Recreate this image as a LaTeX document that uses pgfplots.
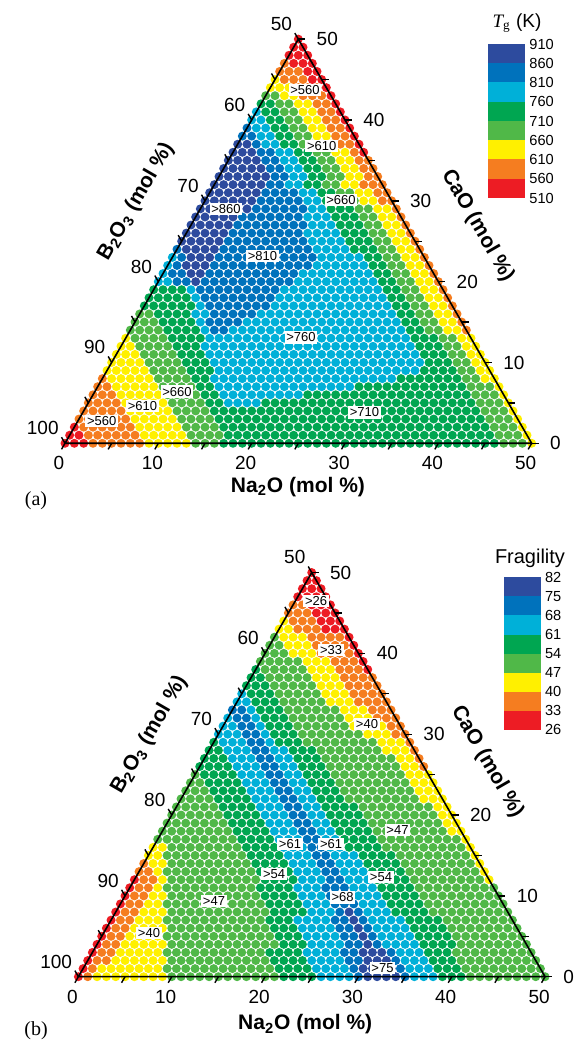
\documentclass[border=0pt]{standalone}
\usepackage{fontspec}
\setmainfont{Liberation Sans}
\newfontfamily\seriffont{Liberation Serif}
\usepackage{pgfplots}
\pgfplotsset{compat=1.18}
\definecolor{cR}{RGB}{237,28,36}
\definecolor{cO}{RGB}{245,125,32}
\definecolor{cY}{RGB}{255,240,0}
\definecolor{cL}{RGB}{80,184,72}
\definecolor{cG}{RGB}{0,166,81}
\definecolor{cC}{RGB}{0,176,216}
\definecolor{cB}{RGB}{0,114,188}
\definecolor{cD}{RGB}{45,75,158}
\pgfplotsset{
 tern/.style={hide axis, clip=false, x=4.6667pt, y=4.6667pt, xmin=0, xmax=50, ymin=0, ymax=43.30127, anchor=south west},
 dots/.style={line width=4.5pt, line cap=round, dash pattern=on 0pt off 4.6667pt, quiver={u=\thisrow{b}-\thisrow{a}+0.3, v=0}},
}
\tikzset{lab/.style={fill=white, inner sep=0.8pt, font=\fontsize{6.5}{7}\selectfont}}
\newcommand{\dotrows}[2]{\addplot[dots, draw=#1] table[row sep=\\, x expr=\thisrow{a}+0.5*\thisrow{c}, y expr=0.8660254*\thisrow{c}] {#2};}
\newcommand{\ternframe}{%
 \draw[line width=0.8pt] (axis cs:0,0) -- (axis cs:50,0) -- (axis cs:25,43.30127) -- cycle;
 \pgfplotsinvokeforeach{0,5,...,50}{%
  \draw[line width=0.7pt] (axis cs:##1,0) -- ++(-1.75pt,-3.03pt);
  \draw[line width=0.7pt] (axis cs:{50-##1/2},{##1*0.8660254}) -- ++(3.5pt,0pt);
  \draw[line width=0.7pt] (axis cs:{##1/2},{##1*0.8660254}) -- ++(-1.75pt,3.03pt);
 }
 \pgfplotsinvokeforeach{0,10,...,50}{%
  \path (axis cs:##1,0) node[anchor=north, inner sep=0pt, xshift=-3pt, yshift=-6.5pt, font=\fontsize{9.5}{10}\selectfont] {##1};
  \path (axis cs:{50-##1/2},{##1*0.8660254}) node[anchor=west, inner sep=0pt, xshift=9pt, font=\fontsize{9.5}{10}\selectfont] {##1};
  \path (axis cs:{##1/2},{##1*0.8660254}) node[anchor=south east, inner sep=0pt, xshift=-3pt, yshift=4pt, font=\fontsize{9.5}{10}\selectfont] {\pgfmathtruncatemacro\v{100-##1}\v};
 }
}
\begin{document}
\begin{tikzpicture}
\path[use as bounding box] (0,0) rectangle (287pt,525pt);
% ---------------- (a) Tg ----------------
\begin{axis}[tern, at={(32.5pt,303.35pt)}]
\dotrows{cR}{c a b\\ 50 0 0\\ 49 0 1\\ 48 0 2\\ 47 1 3\\ 46 3 4\\ 45 4 5\\ 44 6 6\\ 43 7 7\\ 42 8 8\\ 41 9 9\\ 40 10 10\\ 39 11 11\\ 38 12 12\\ 37 13 13\\ 36 14 14\\ 2 0 0\\ 1 0 1\\ 0 0 2\\}
\dotrows{cO}{c a b\\ 47 0 0\\ 46 0 2\\ 45 1 3\\ 44 3 5\\ 43 4 6\\ 42 6 7\\ 41 7 8\\ 40 8 9\\ 39 9 10\\ 38 10 11\\ 37 11 12\\ 36 13 13\\ 35 14 15\\ 34 15 16\\ 33 16 17\\ 32 16 18\\ 31 18 19\\ 30 19 20\\ 29 21 21\\ 28 22 22\\ 27 23 23\\ 26 24 24\\ 25 25 25\\ 24 26 26\\ 23 27 27\\ 22 28 28\\ 21 29 29\\ 20 30 30\\ 19 31 31\\ 18 32 32\\ 17 33 33\\ 16 34 34\\ 15 35 35\\ 14 36 36\\ 8 0 0\\ 7 0 1\\ 6 0 2\\ 5 0 3\\ 4 0 4\\ 3 0 5\\ 2 1 6\\ 1 2 7\\ 0 3 8\\}
\dotrows{cY}{c a b\\ 45 0 0\\ 44 0 2\\ 43 2 3\\ 42 4 5\\ 41 5 6\\ 40 6 7\\ 39 7 8\\ 38 8 9\\ 37 9 10\\ 36 11 12\\ 35 12 13\\ 34 13 14\\ 33 14 15\\ 32 14 15\\ 31 16 17\\ 30 17 18\\ 29 19 20\\ 28 20 21\\ 27 21 22\\ 26 22 23\\ 25 23 24\\ 24 24 25\\ 23 25 26\\ 22 26 27\\ 21 27 28\\ 20 28 29\\ 19 29 30\\ 18 30 31\\ 17 31 32\\ 16 32 33\\ 15 33 34\\ 14 34 35\\ 13 0 0\\ 13 36 37\\ 12 0 1\\ 12 37 38\\ 11 0 2\\ 11 38 39\\ 10 0 3\\ 10 39 40\\ 9 0 4\\ 9 40 41\\ 8 1 5\\ 8 41 42\\ 7 2 6\\ 7 43 43\\ 6 3 7\\ 6 44 44\\ 5 4 8\\ 5 45 45\\ 4 5 9\\ 4 46 46\\ 3 6 10\\ 3 47 47\\ 2 7 11\\ 2 48 48\\ 1 8 12\\ 1 49 49\\ 0 9 13\\ 0 50 50\\}
\dotrows{cL}{c a b\\ 43 0 1\\ 42 2 3\\ 41 3 4\\ 40 4 5\\ 39 5 6\\ 38 6 7\\ 37 7 8\\ 36 9 10\\ 35 10 11\\ 34 11 12\\ 33 12 13\\ 32 12 13\\ 31 14 15\\ 30 14 16\\ 29 17 18\\ 28 18 19\\ 27 19 20\\ 26 20 21\\ 25 21 22\\ 24 22 23\\ 23 23 24\\ 22 24 25\\ 21 25 26\\ 20 26 27\\ 19 27 28\\ 18 28 29\\ 17 29 30\\ 16 0 1\\ 16 30 31\\ 15 0 2\\ 15 31 32\\ 14 0 3\\ 14 32 33\\ 13 1 4\\ 13 34 35\\ 12 2 5\\ 12 35 36\\ 11 3 6\\ 11 36 37\\ 10 4 7\\ 10 37 38\\ 9 5 8\\ 9 38 39\\ 8 6 9\\ 8 39 40\\ 7 7 10\\ 7 40 42\\ 6 8 11\\ 6 41 43\\ 5 9 12\\ 5 42 44\\ 4 10 13\\ 4 43 45\\ 3 11 14\\ 3 44 46\\ 2 12 15\\ 2 45 47\\ 1 13 16\\ 1 46 48\\ 0 14 16\\ 0 47 49\\}
\dotrows{cG}{c a b\\ 42 0 1\\ 41 1 2\\ 40 2 3\\ 39 3 4\\ 38 4 5\\ 37 5 6\\ 36 7 8\\ 35 8 9\\ 34 9 10\\ 33 10 11\\ 32 10 11\\ 31 12 13\\ 30 13 13\\ 29 14 16\\ 28 15 17\\ 27 16 18\\ 26 17 19\\ 25 18 20\\ 24 19 21\\ 23 21 22\\ 22 22 23\\ 21 23 24\\ 20 24 25\\ 19 0 3\\ 19 25 26\\ 18 0 4\\ 18 26 27\\ 17 0 5\\ 17 27 28\\ 16 2 5\\ 16 28 29\\ 15 3 6\\ 15 29 30\\ 14 4 7\\ 14 30 31\\ 13 5 8\\ 13 31 33\\ 12 6 8\\ 12 32 34\\ 11 7 9\\ 11 33 35\\ 10 8 10\\ 10 34 36\\ 9 9 11\\ 9 34 37\\ 8 10 11\\ 8 32 38\\ 7 11 12\\ 7 28 39\\ 6 12 13\\ 6 23 40\\ 5 13 14\\ 5 19 41\\ 4 14 42\\ 3 15 43\\ 2 16 44\\ 1 17 45\\ 0 17 46\\}
\dotrows{cC}{c a b\\ 41 0 0\\ 40 0 1\\ 39 1 2\\ 38 2 3\\ 37 3 4\\ 36 5 6\\ 35 6 7\\ 34 7 8\\ 33 8 9\\ 32 8 9\\ 31 10 11\\ 30 11 12\\ 29 12 13\\ 28 12 14\\ 27 13 15\\ 26 13 16\\ 25 14 17\\ 24 15 18\\ 23 0 0\\ 23 16 20\\ 22 0 0\\ 22 16 21\\ 21 0 0\\ 21 15 22\\ 20 0 1\\ 20 15 23\\ 19 4 4\\ 19 14 24\\ 18 5 5\\ 18 14 25\\ 17 6 6\\ 17 14 26\\ 16 6 7\\ 16 13 27\\ 15 7 7\\ 15 12 28\\ 14 8 8\\ 14 11 29\\ 13 9 30\\ 12 9 31\\ 11 10 32\\ 10 11 33\\ 9 12 33\\ 8 12 31\\ 7 13 27\\ 6 14 22\\ 5 15 18\\}
\dotrows{cB}{c a b\\ 39 0 0\\ 38 0 1\\ 37 2 2\\ 36 3 4\\ 35 4 5\\ 34 5 6\\ 33 6 7\\ 32 6 7\\ 31 6 9\\ 30 6 10\\ 29 6 11\\ 28 5 11\\ 27 5 12\\ 26 5 12\\ 25 5 13\\ 24 0 0\\ 24 5 14\\ 23 1 1\\ 23 5 15\\ 22 1 1\\ 22 5 15\\ 21 1 2\\ 21 5 14\\ 20 2 3\\ 20 5 14\\ 19 5 13\\ 18 6 13\\ 17 7 13\\ 16 8 12\\ 15 8 11\\ 14 9 10\\}
\dotrows{cD}{c a b\\ 37 0 1\\ 36 0 2\\ 35 0 3\\ 34 0 4\\ 33 0 5\\ 32 0 5\\ 31 0 5\\ 30 0 5\\ 29 0 5\\ 28 0 4\\ 27 0 4\\ 26 0 4\\ 25 0 4\\ 24 1 4\\ 23 2 4\\ 22 2 4\\ 21 3 4\\ 20 4 4\\}
\ternframe
\node[lab] at (axis cs:25.71,37.85) {>560};
\node[lab] at (axis cs:27.50,31.85) {>610};
\node[lab] at (axis cs:29.57,26.07) {>660};
\node[lab] at (axis cs:17.25,25.11) {>860};
\node[lab] at (axis cs:21.16,20.07) {>810};
\node[lab] at (axis cs:25.29,11.34) {>760};
\node[lab] at (axis cs:32.09,3.30) {>710};
\node[lab] at (axis cs:12.00,5.53) {>660};
\node[lab] at (axis cs:8.30,4.00) {>610};
\node[lab] at (axis cs:3.93,2.39) {>560};
\node[rotate=60, font=\bfseries\fontsize{10.5}{12}\selectfont] at (axis cs:7.6,25.9) {B\textsubscript{2}O\textsubscript{3} (mol \%)};
\node[rotate=-60, font=\bfseries\fontsize{10.5}{12}\selectfont] at (axis cs:44.2,23.3) {CaO (mol \%)};
\node[font=\bfseries\fontsize{10.5}{12}\selectfont] at (axis cs:24.96,-4.64) {Na\textsubscript{2}O (mol \%)};
\end{axis}
% ---------------- (b) Fragility ----------------
\begin{axis}[tern, at={(39.2pt,36.65pt)}]
\dotrows{cR}{c a b\\ 50 0 0\\ 49 0 1\\ 48 0 2\\ 47 0 3\\ 46 2 4\\ 45 3 5\\ 44 4 6\\ 43 5 7\\ 42 8 8\\ 41 9 9\\ 40 10 10\\ 39 11 11\\ 38 12 12\\ 12 0 0\\ 11 0 0\\ 10 0 0\\ 9 0 0\\ 8 0 0\\ 7 0 0\\ 6 0 0\\ 5 0 0\\ 4 0 0\\ 3 0 0\\ 2 0 0\\ 1 0 0\\ 0 0 0\\}
\dotrows{cO}{c a b\\ 46 0 1\\ 45 0 2\\ 44 1 3\\ 43 2 4\\ 42 4 7\\ 41 5 8\\ 40 6 9\\ 39 8 10\\ 38 9 11\\ 37 10 13\\ 36 11 14\\ 35 12 15\\ 34 13 16\\ 33 15 17\\ 32 16 18\\ 31 18 19\\ 30 19 20\\ 29 21 21\\ 28 22 22\\ 27 23 23\\ 26 24 24\\ 14 0 0\\ 13 0 1\\ 12 1 2\\ 11 1 2\\ 10 1 2\\ 9 1 2\\ 8 1 2\\ 7 1 2\\ 6 1 2\\ 5 1 2\\ 4 1 2\\ 3 1 2\\ 2 1 2\\ 1 1 1\\ 0 1 1\\}
\dotrows{cY}{c a b\\ 44 0 0\\ 43 0 1\\ 42 1 3\\ 41 2 4\\ 40 3 5\\ 39 5 7\\ 38 6 8\\ 37 7 9\\ 36 8 10\\ 35 9 11\\ 34 10 12\\ 33 12 14\\ 32 13 15\\ 31 14 17\\ 30 16 18\\ 29 18 20\\ 28 19 21\\ 27 21 22\\ 26 22 23\\ 25 23 25\\ 24 24 26\\ 23 25 27\\ 22 26 28\\ 21 28 29\\ 20 29 30\\ 19 30 31\\ 18 31 32\\ 17 33 33\\ 16 0 1\\ 16 34 34\\ 15 0 1\\ 15 35 35\\ 14 1 2\\ 14 36 36\\ 13 2 2\\ 13 37 37\\ 12 3 3\\ 12 38 38\\ 11 3 3\\ 10 3 4\\ 9 3 4\\ 8 3 5\\ 7 3 5\\ 6 3 6\\ 5 3 6\\ 4 3 7\\ 3 3 7\\ 2 3 8\\ 1 2 8\\ 0 2 9\\}
\dotrows{cL}{c a b\\ 42 0 0\\ 41 0 1\\ 40 0 2\\ 39 0 4\\ 38 1 5\\ 37 2 6\\ 36 3 7\\ 35 4 8\\ 34 5 9\\ 33 6 11\\ 32 7 12\\ 31 8 13\\ 30 9 15\\ 29 10 17\\ 28 12 18\\ 27 13 20\\ 26 14 21\\ 25 0 0\\ 25 15 22\\ 24 0 1\\ 24 16 23\\ 23 0 2\\ 23 17 24\\ 22 0 3\\ 22 18 25\\ 21 0 4\\ 21 20 27\\ 20 0 5\\ 20 21 28\\ 19 0 6\\ 19 22 29\\ 18 0 7\\ 18 23 30\\ 17 0 8\\ 17 24 32\\ 16 2 9\\ 16 25 33\\ 15 2 10\\ 15 27 34\\ 14 3 11\\ 14 28 35\\ 13 3 12\\ 13 29 36\\ 12 4 13\\ 12 30 37\\ 11 4 13\\ 11 31 39\\ 10 5 14\\ 10 32 40\\ 9 5 15\\ 9 33 41\\ 8 6 16\\ 8 34 42\\ 7 6 16\\ 7 36 43\\ 6 7 17\\ 6 37 44\\ 5 7 18\\ 5 38 45\\ 4 8 19\\ 4 39 46\\ 3 8 18\\ 3 39 47\\ 2 9 19\\ 2 40 48\\ 1 9 20\\ 1 41 49\\ 0 10 21\\ 0 42 50\\}
\dotrows{cG}{c a b\\ 38 0 0\\ 37 0 1\\ 36 0 2\\ 35 1 3\\ 34 2 4\\ 33 3 5\\ 32 4 6\\ 31 5 7\\ 30 6 8\\ 29 0 0\\ 29 7 9\\ 28 0 1\\ 28 9 11\\ 27 0 2\\ 27 10 12\\ 26 0 3\\ 26 11 13\\ 25 1 4\\ 25 12 14\\ 24 2 5\\ 24 13 15\\ 23 3 6\\ 23 14 16\\ 22 4 7\\ 22 15 17\\ 21 5 8\\ 21 16 19\\ 20 6 9\\ 20 17 20\\ 19 7 10\\ 19 18 21\\ 18 8 11\\ 18 19 22\\ 17 9 12\\ 17 20 23\\ 16 10 13\\ 16 21 24\\ 15 11 14\\ 15 23 26\\ 14 12 15\\ 14 24 27\\ 13 13 16\\ 13 25 28\\ 12 14 17\\ 12 26 29\\ 11 14 17\\ 11 27 30\\ 10 15 18\\ 10 28 31\\ 9 16 19\\ 9 29 32\\ 8 17 20\\ 8 30 33\\ 7 17 19\\ 7 32 35\\ 6 18 20\\ 6 33 36\\ 5 19 21\\ 5 34 37\\ 4 20 22\\ 4 35 38\\ 3 19 22\\ 3 36 38\\ 2 20 23\\ 2 37 39\\ 1 21 24\\ 1 38 40\\ 0 22 25\\ 0 39 41\\}
\dotrows{cC}{c a b\\ 35 0 0\\ 34 0 1\\ 33 2 2\\ 32 0 0\\ 32 3 3\\ 31 0 1\\ 31 4 4\\ 30 0 2\\ 30 5 5\\ 29 1 3\\ 29 6 6\\ 28 2 4\\ 28 7 8\\ 27 3 5\\ 27 8 9\\ 26 4 6\\ 26 9 10\\ 25 5 7\\ 25 10 11\\ 24 6 8\\ 24 11 12\\ 23 7 9\\ 23 12 13\\ 22 8 10\\ 22 13 14\\ 21 9 11\\ 21 14 15\\ 20 10 12\\ 20 15 16\\ 19 11 13\\ 19 16 17\\ 18 12 14\\ 18 17 18\\ 17 13 15\\ 17 18 19\\ 16 14 16\\ 16 19 20\\ 15 15 17\\ 15 20 22\\ 14 16 18\\ 14 21 23\\ 13 17 19\\ 13 22 24\\ 12 18 20\\ 12 23 25\\ 11 18 20\\ 11 24 26\\ 10 19 21\\ 10 25 27\\ 9 20 22\\ 9 26 28\\ 8 21 23\\ 8 27 29\\ 7 20 23\\ 7 28 31\\ 6 21 24\\ 6 29 32\\ 5 22 25\\ 5 30 33\\ 4 23 26\\ 4 31 34\\ 3 23 26\\ 3 33 35\\ 2 24 27\\ 2 34 36\\ 1 25 28\\ 1 35 37\\ 0 26 29\\ 0 36 38\\}
\dotrows{cB}{c a b\\ 33 0 1\\ 32 1 2\\ 31 2 3\\ 30 3 4\\ 29 4 5\\ 28 5 6\\ 27 6 7\\ 26 7 8\\ 25 8 9\\ 24 9 10\\ 23 10 11\\ 22 11 12\\ 21 12 13\\ 20 13 14\\ 19 14 15\\ 18 15 16\\ 17 16 17\\ 16 17 18\\ 15 18 19\\ 14 19 20\\ 13 20 21\\ 12 21 22\\ 11 21 23\\ 10 22 24\\ 9 23 25\\ 8 24 24\\ 8 26 26\\ 7 24 25\\ 7 27 27\\ 6 25 26\\ 6 28 28\\ 5 26 27\\ 5 29 29\\ 4 27 28\\ 4 30 30\\ 3 27 28\\ 3 32 32\\ 2 28 29\\ 2 33 33\\ 1 29 29\\ 1 34 34\\ 0 30 30\\ 0 35 35\\}
\dotrows{cD}{c a b\\ 8 25 25\\ 7 26 26\\ 6 27 27\\ 5 28 28\\ 4 29 29\\ 3 29 31\\ 2 30 32\\ 1 30 33\\ 0 31 34\\}
\ternframe
\node[lab] at (axis cs:25.46,40.25) {>26};
\node[lab] at (axis cs:27.07,35.00) {>33};
\node[lab] at (axis cs:30.92,27.08) {>40};
\node[lab] at (axis cs:34.19,15.72) {>47};
\node[lab] at (axis cs:22.67,14.23) {>61};
\node[lab] at (axis cs:27.07,14.23) {>61};
\node[lab] at (axis cs:20.96,11.00) {>54};
\node[lab] at (axis cs:32.42,10.68) {>54};
\node[lab] at (axis cs:14.53,8.11) {>47};
\node[lab] at (axis cs:28.30,8.49) {>68};
\node[lab] at (axis cs:7.56,4.68) {>40};
\node[lab] at (axis cs:32.58,0.93) {>75};
\node[rotate=60, font=\bfseries\fontsize{10.5}{12}\selectfont] at (axis cs:7.6,25.9) {B\textsubscript{2}O\textsubscript{3} (mol \%)};
\node[rotate=-60, font=\bfseries\fontsize{10.5}{12}\selectfont] at (axis cs:43.8,23.0) {CaO (mol \%)};
\node[font=\bfseries\fontsize{10.5}{12}\selectfont] at (axis cs:24.3,-5.1) {Na\textsubscript{2}O (mol \%)};
\end{axis}
% ---------------- colour bars ----------------
\foreach \col [count=\i from 0] in {cD,cB,cC,cG,cL,cY,cO,cR}{
  \fill[\col] (244pt,{503pt-\i*9.625pt}) rectangle (262.5pt,{503pt-(\i+1)*9.625pt});
  \fill[\col] (252pt,{236.35pt-\i*9.54pt}) rectangle (270.3pt,{236.35pt-(\i+1)*9.54pt});
}
\foreach \lab [count=\i from 0] in {910,860,810,760,710,660,610,560,510}{
  \node[anchor=west, inner sep=0pt, font=\fontsize{7.3}{8}\selectfont] at (264.5pt,{503pt-\i*9.625pt}) {\lab};
}
\foreach \lab [count=\i from 0] in {82,75,68,61,54,47,40,33,26}{
  \node[anchor=west, inner sep=0pt, font=\fontsize{7.3}{8}\selectfont] at (272.3pt,{236.35pt-\i*9.54pt}) {\lab};
}
\node[font=\fontsize{9.5}{11}\selectfont] at (258.5pt,513.5pt) {{\seriffont\itshape T}\textsubscript{\seriffont g} (K)};
\node[font=\fontsize{10}{11}\selectfont] at (265pt,246pt) {Fragility};
\node[font=\seriffont\fontsize{10}{12}\selectfont] at (18pt,274.5pt) {(a)};
\node[font=\seriffont\fontsize{10}{12}\selectfont] at (18pt,9.5pt) {(b)};
\end{tikzpicture}
\end{document}
